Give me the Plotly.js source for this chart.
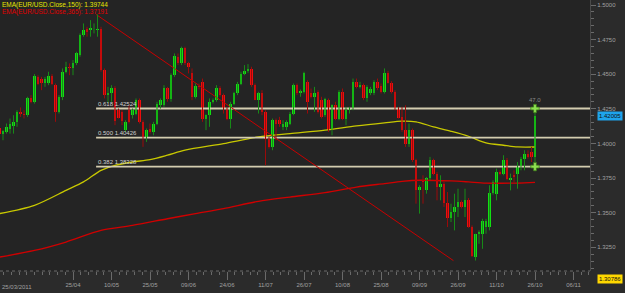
<!DOCTYPE html>
<html>
<head>
<meta charset="utf-8">
<script src="https://cdn.plot.ly/plotly-3.0.1.min.js"></script>
<style>html,body{margin:0;padding:0;background:#2b2b2b;}#chart{width:625px;height:293px;}</style>
</head>
<body>
<div id="chart"></div>
<script>
// ---- Data (EUR/USD daily) ----
const openP = [1.4112,1.4071,1.4083,1.4108,1.4124,1.4156,1.4228,1.4216,1.4204,1.4329,
1.4301,1.4481,1.4469,1.4438,1.4438,1.4486,1.4421,1.4228,1.4337,1.4518,
1.4554,1.4542,1.4578,1.4638,1.4783,1.4824,1.4819,1.4824,1.4819,1.4824,
1.4530,1.4349,1.4361,1.4404,1.4240,1.4228,1.4096,1.4240,1.4204,1.4216,
1.4313,1.4156,1.4047,1.4108,1.4083,1.4144,1.4276,1.4276,1.4397,1.4320,
1.4493,1.4626,1.4578,1.4686,1.4578,1.4506,1.4337,1.4414,1.4445,1.4180,
1.4204,1.4301,1.4313,1.4404,1.4349,1.4252,1.4180,1.4288,1.4366,1.4433,
1.4501,1.4525,1.4537,1.4421,1.4313,1.4361,1.4228,1.4035,1.3975,1.4168,
1.4168,1.4120,1.4120,1.4144,1.4216,1.4421,1.4361,1.4373,1.4445,1.4366,
1.4337,1.4373,1.4313,1.4204,1.4313,1.4108,1.4276,1.4180,1.4373,1.4180,
1.4240,1.4252,1.4445,1.4409,1.4421,1.4325,1.4361,1.4361,1.4445,1.4414,
1.4373,1.4510,1.4438,1.4373,1.4252,1.4192,1.4096,1.3999,1.4096,1.3878,
1.3661,1.3734,1.3661,1.3753,1.3878,1.3782,1.3685,1.3710,1.3570,1.3463,
1.3505,1.3541,1.3577,1.3541,1.3594,1.3396,1.3179,1.3348,1.3348,1.3396,
1.3396,1.3642,1.3637,1.3794,1.3782,1.3883,1.3734,1.3770,1.3782,1.3830,
1.3890,1.3927,1.3939,1.3902];
const highP = [1.4132,1.4096,1.4144,1.4180,1.4204,1.4240,1.4260,1.4240,1.4337,1.4349,
1.4501,1.4493,1.4481,1.4481,1.4518,1.4501,1.4433,1.4349,1.4542,1.4590,
1.4578,1.4602,1.4662,1.4795,1.4867,1.4843,1.4891,1.4867,1.4932,1.4843,
1.4542,1.4409,1.4421,1.4414,1.4252,1.4240,1.4168,1.4276,1.4252,1.4325,
1.4325,1.4168,1.4108,1.4144,1.4156,1.4301,1.4325,1.4421,1.4409,1.4506,
1.4650,1.4650,1.4699,1.4699,1.4590,1.4542,1.4433,1.4433,1.4469,1.4210,
1.4325,1.4325,1.4421,1.4414,1.4361,1.4264,1.4301,1.4373,1.4445,1.4518,
1.4566,1.4573,1.4554,1.4433,1.4373,1.4385,1.4240,1.4047,1.4180,1.4180,
1.4192,1.4168,1.4168,1.4228,1.4433,1.4433,1.4390,1.4518,1.4457,1.4397,
1.4409,1.4385,1.4337,1.4330,1.4325,1.4283,1.4301,1.4385,1.4397,1.4264,
1.4264,1.4469,1.4469,1.4445,1.4433,1.4421,1.4409,1.4457,1.4469,1.4433,
1.4542,1.4525,1.4450,1.4385,1.4264,1.4264,1.4276,1.4144,1.4108,1.3890,
1.3698,1.3770,1.3758,1.3903,1.3890,1.3794,1.3770,1.3722,1.3649,1.3565,
1.3637,1.3673,1.3589,1.3673,1.3606,1.3408,1.3348,1.3372,1.3456,1.3456,
1.3698,1.3734,1.3818,1.3806,1.3915,1.3895,1.3782,1.3806,1.3866,1.3903,
1.3951,1.3951,1.3975,1.4240];
const lowP = [1.4059,1.4023,1.4071,1.4071,1.4071,1.4120,1.4192,1.4180,1.4192,1.4290,
1.4288,1.4421,1.4385,1.4409,1.4421,1.4421,1.4156,1.4216,1.4313,1.4506,
1.4493,1.4493,1.4566,1.4626,1.4771,1.4771,1.4771,1.4795,1.4771,1.4518,
1.4325,1.4290,1.4301,1.4132,1.4180,1.4132,1.4083,1.4144,1.4180,1.4204,
1.4144,1.3975,1.4011,1.4071,1.4059,1.4132,1.4252,1.4264,1.4301,1.4301,
1.4481,1.4566,1.4566,1.4566,1.4506,1.4313,1.4325,1.4390,1.4156,1.4096,
1.4120,1.4288,1.4301,1.4337,1.4216,1.4168,1.4108,1.4276,1.4349,1.4421,
1.4493,1.4510,1.4409,1.4313,1.4216,1.4204,1.3842,1.3963,1.3951,1.4023,
1.4120,1.4096,1.4096,1.4132,1.4204,1.4349,1.4337,1.4361,1.4216,1.4325,
1.4228,1.4216,1.4180,1.4192,1.4083,1.4059,1.4168,1.4168,1.4168,1.4132,
1.4216,1.4240,1.4397,1.4397,1.4313,1.4301,1.4349,1.4349,1.4385,1.4361,
1.4361,1.4433,1.4361,1.4240,1.4180,1.4083,1.3975,1.3975,1.3866,1.3565,
1.3493,1.3565,1.3637,1.3734,1.3770,1.3589,1.3589,1.3541,1.3396,1.3432,
1.3372,1.3468,1.3530,1.3468,1.3390,1.3179,1.3154,1.3275,1.3239,1.3348,
1.3372,1.3630,1.3589,1.3770,1.3770,1.3734,1.3661,1.3720,1.3673,1.3806,
1.3806,1.3890,1.3866,1.3866];
const closeP = [1.4071,1.4088,1.4120,1.4144,1.4156,1.4228,1.4216,1.4204,1.4329,1.4301,
1.4486,1.4433,1.4438,1.4469,1.4486,1.4433,1.4228,1.4337,1.4518,1.4554,
1.4542,1.4578,1.4650,1.4783,1.4819,1.4807,1.4831,1.4829,1.4826,1.4530,
1.4349,1.4366,1.4404,1.4163,1.4187,1.4163,1.4156,1.4156,1.4240,1.4313,
1.4156,1.4047,1.4096,1.4083,1.4144,1.4284,1.4313,1.4397,1.4320,1.4493,
1.4631,1.4578,1.4686,1.4578,1.4554,1.4337,1.4414,1.4409,1.4180,1.4204,
1.4301,1.4313,1.4404,1.4349,1.4252,1.4180,1.4288,1.4366,1.4433,1.4501,
1.4525,1.4537,1.4421,1.4315,1.4361,1.4228,1.4035,1.3975,1.4168,1.4144,
1.4144,1.4144,1.4156,1.4216,1.4421,1.4361,1.4380,1.4510,1.4301,1.4337,
1.4366,1.4228,1.4192,1.4320,1.4096,1.4276,1.4180,1.4373,1.4180,1.4240,
1.4252,1.4445,1.4409,1.4421,1.4325,1.4409,1.4390,1.4445,1.4404,1.4373,
1.4506,1.4438,1.4373,1.4252,1.4187,1.4096,1.3999,1.4096,1.3878,1.3661,
1.3685,1.3722,1.3753,1.3878,1.3782,1.3685,1.3710,1.3570,1.3463,1.3505,
1.3541,1.3577,1.3541,1.3594,1.3396,1.3190,1.3348,1.3360,1.3439,1.3439,
1.3642,1.3722,1.3794,1.3782,1.3883,1.3740,1.3753,1.3758,1.3830,1.3890,
1.3927,1.3903,1.3903,1.42005];

// EMA samples (bar index, value)
const ema150Idx = [0,10,19,24,29,33,38,43,48,53,64,74,83,93,102,110,115,119,124,129,134,139,144,148,153];
const ema150 = [1.3493,1.3553,1.3661,1.3722,1.3806,1.3842,1.3866,1.3883,1.3915,1.3951,1.3999,1.4047,1.4071,1.4096,1.4127,1.4149,1.4161,1.4156,1.4120,1.4088,1.4052,1.4004,1.3987,1.3975,1.39744];
const ema365Idx = [0,10,19,29,38,48,56,64,74,83,93,102,110,115,120,129,134,139,148,153];
const ema365 = [1.3179,1.3227,1.3288,1.3372,1.3408,1.3456,1.3493,1.3529,1.3582,1.3613,1.3645,1.3685,1.3710,1.3726,1.3734,1.3729,1.3722,1.3714,1.3714,1.37191];

// Fibonacci tool
const trendIdx = [27.6, 129.7];
const trendPrice = [1.49316, 1.31536];
const fibRatios = ['0.618','0.500','0.382'];
const fibLevels = [1.42524, 1.40426, 1.38328];
const moveLabel = '47.0';

// Axis labels
const firstDateLabel = '25/03/2011';
const tickLabels = ['25/04','10/05','25/05','09/06','24/06','11/07','26/07','10/08','25/08','09/09','26/09','11/10','26/10','06/11'];
const bottomTag = '1.30786';

// ---- Build ----
const n = closeP.length;
const xRange = [0.143, 168.714];
const yRange = [1.30786, 1.50362];

const upWx = [], upWy = [], dnWx = [], dnWy = [];
const upX = [], upB = [], upH = [], dnX = [], dnB = [], dnH = [];
for (let i = 0; i < n; i++) {
  const up = closeP[i] >= openP[i];
  (up ? upWx : dnWx).push(i, i, null);
  (up ? upWy : dnWy).push(lowP[i], highP[i], null);
  if (up) { upX.push(i); upB.push(openP[i]); upH.push(closeP[i] - openP[i]); }
  else { dnX.push(i); dnB.push(closeP[i]); dnH.push(openP[i] - closeP[i]); }
}

const traces = [];
traces.push({type:'scatter', mode:'lines', x: ema365Idx, y: ema365, line:{color:'#d00000', width:1.3, shape:'spline', smoothing:0.8}, hoverinfo:'skip'});
traces.push({type:'scatter', mode:'lines', x: ema150Idx, y: ema150, line:{color:'#c8c800', width:1.3, shape:'spline', smoothing:0.8}, hoverinfo:'skip'});
fibLevels.forEach(l => traces.push({type:'scatter', mode:'lines', x:[trendIdx[0], xRange[1]], y:[l, l], line:{color:'#d4cdb0', width:1.8}, hoverinfo:'skip'}));
traces.push({type:'scatter', mode:'lines', x: trendIdx, y: trendPrice, line:{color:'#c80000', width:1}, hoverinfo:'skip'});
traces.push({type:'scatter', mode:'lines', x: upWx, y: upWy, line:{color:'#178a17', width:1}, hoverinfo:'skip', connectgaps:false});
traces.push({type:'scatter', mode:'lines', x: dnWx, y: dnWy, line:{color:'#9a0a0a', width:1}, hoverinfo:'skip', connectgaps:false});
traces.push({type:'bar', x: upX, base: upB, y: upH, width: 0.6, marker:{color:'#12e012', line:{width:0}}, hoverinfo:'skip'});
traces.push({type:'bar', x: dnX, base: dnB, y: dnH, width: 0.6, marker:{color:'#ee0d0d', line:{width:0}}, hoverinfo:'skip'});
traces.push({type:'scatter', mode:'markers', x:[n-1, n-1], y:[fibLevels[0], fibLevels[2]],
  marker:{symbol:'cross', size:7, color:'#8ee050', line:{color:'#3d7a1a', width:0.8}}, hoverinfo:'skip'});

const tickVals = tickLabels.map((_, k) => 21 + 11 * k);
const minorVals = [];
for (let v = 21 - 22; v <= xRange[1]; v += 2.2) minorVals.push(+v.toFixed(2));

const fontFam = 'Liberation Sans, Arial, sans-serif';
const annotations = [
  {xref:'paper', yref:'paper', x:0, y:1, xanchor:'left', yanchor:'top', yshift:1, showarrow:false,
   text:'EMA(EUR/USD.Close,150): ' + ema150[ema150.length-1].toFixed(5), font:{size:6.5, color:'#e6e600', family:fontFam}},
  {xref:'paper', yref:'paper', x:0, y:1, xanchor:'left', yanchor:'top', yshift:-6, showarrow:false,
   text:'EMA(EUR/USD.Close,365): ' + ema365[ema365.length-1].toFixed(5), font:{size:6.5, color:'#e00000', family:fontFam}},
  {xref:'paper', yref:'paper', x:0, y:0, xanchor:'left', yanchor:'top', yshift:-11, showarrow:false,
   text:firstDateLabel, font:{size:6, color:'#a0a0a0', family:fontFam}},
  {xref:'x', yref:'y', x:n-1, y:fibLevels[0], yanchor:'bottom', yshift:4, showarrow:false,
   text:moveLabel, font:{size:6, color:'#8a8a8a', family:fontFam}},
  {xref:'paper', yref:'y', x:1, y:closeP[n-1], xanchor:'left', xshift:7, showarrow:false,
   text:closeP[n-1].toFixed(5), bgcolor:'#1ea4ec', borderpad:1, font:{size:6, color:'#111', family:fontFam}},
  {xref:'paper', yref:'paper', x:1, y:0, xanchor:'left', yanchor:'top', xshift:7, yshift:-3, showarrow:false,
   text:bottomTag, bgcolor:'#ffd800', borderpad:1, font:{size:6, color:'#111', family:fontFam}}
];
fibLevels.forEach((l, k) => annotations.push({xref:'x', yref:'y', x:trendIdx[0], y:l, xanchor:'left', yanchor:'bottom', yshift:0, showarrow:false,
  text: fibRatios[k] + ' ' + l.toFixed(5), font:{size:6, color:'#d0d0d0', family:fontFam}}));

const layout = {
  width:625, height:293,
  margin:{l:0, r:35, t:0, b:22, pad:0},
  paper_bgcolor:'#2b2b2b', plot_bgcolor:'#242424',
  showlegend:false, barmode:'overlay', bargap:0,
  font:{family:fontFam, color:'#a0a0a0', size:6},
  xaxis:{range:xRange, tickmode:'array', tickvals:tickVals, ticktext:tickLabels,
    ticks:'outside', ticklen:8, tickcolor:'#6a6a6a', tickwidth:1,
    tickfont:{size:6, color:'#a0a0a0', family:fontFam},
    minor:{tickmode:'array', tickvals:minorVals, ticks:'outside', ticklen:3, tickcolor:'#6a6a6a'},
    showgrid:false, zeroline:false, showline:false, fixedrange:true},
  yaxis:{range:yRange, side:'right', tick0:1.5, dtick:0.025, tickformat:'.4f',
    ticks:'outside', ticklen:5, tickcolor:'#6a6a6a',
    tickfont:{size:6, color:'#a0a0a0', family:fontFam},
    minor:{dtick:0.005, ticks:'outside', ticklen:3, tickcolor:'#6a6a6a'},
    showgrid:false, zeroline:false, showline:true, linecolor:'#4a4a4a', fixedrange:true},
  shapes:[{type:'line', xref:'paper', yref:'paper', x0:0, x1:1, y0:0, y1:0, line:{color:'#6a6a6a', width:1, dash:'dot'}}],
  annotations: annotations
};

Plotly.newPlot('chart', traces, layout, {displayModeBar:false, staticPlot:true});
</script>
</body>
</html>
